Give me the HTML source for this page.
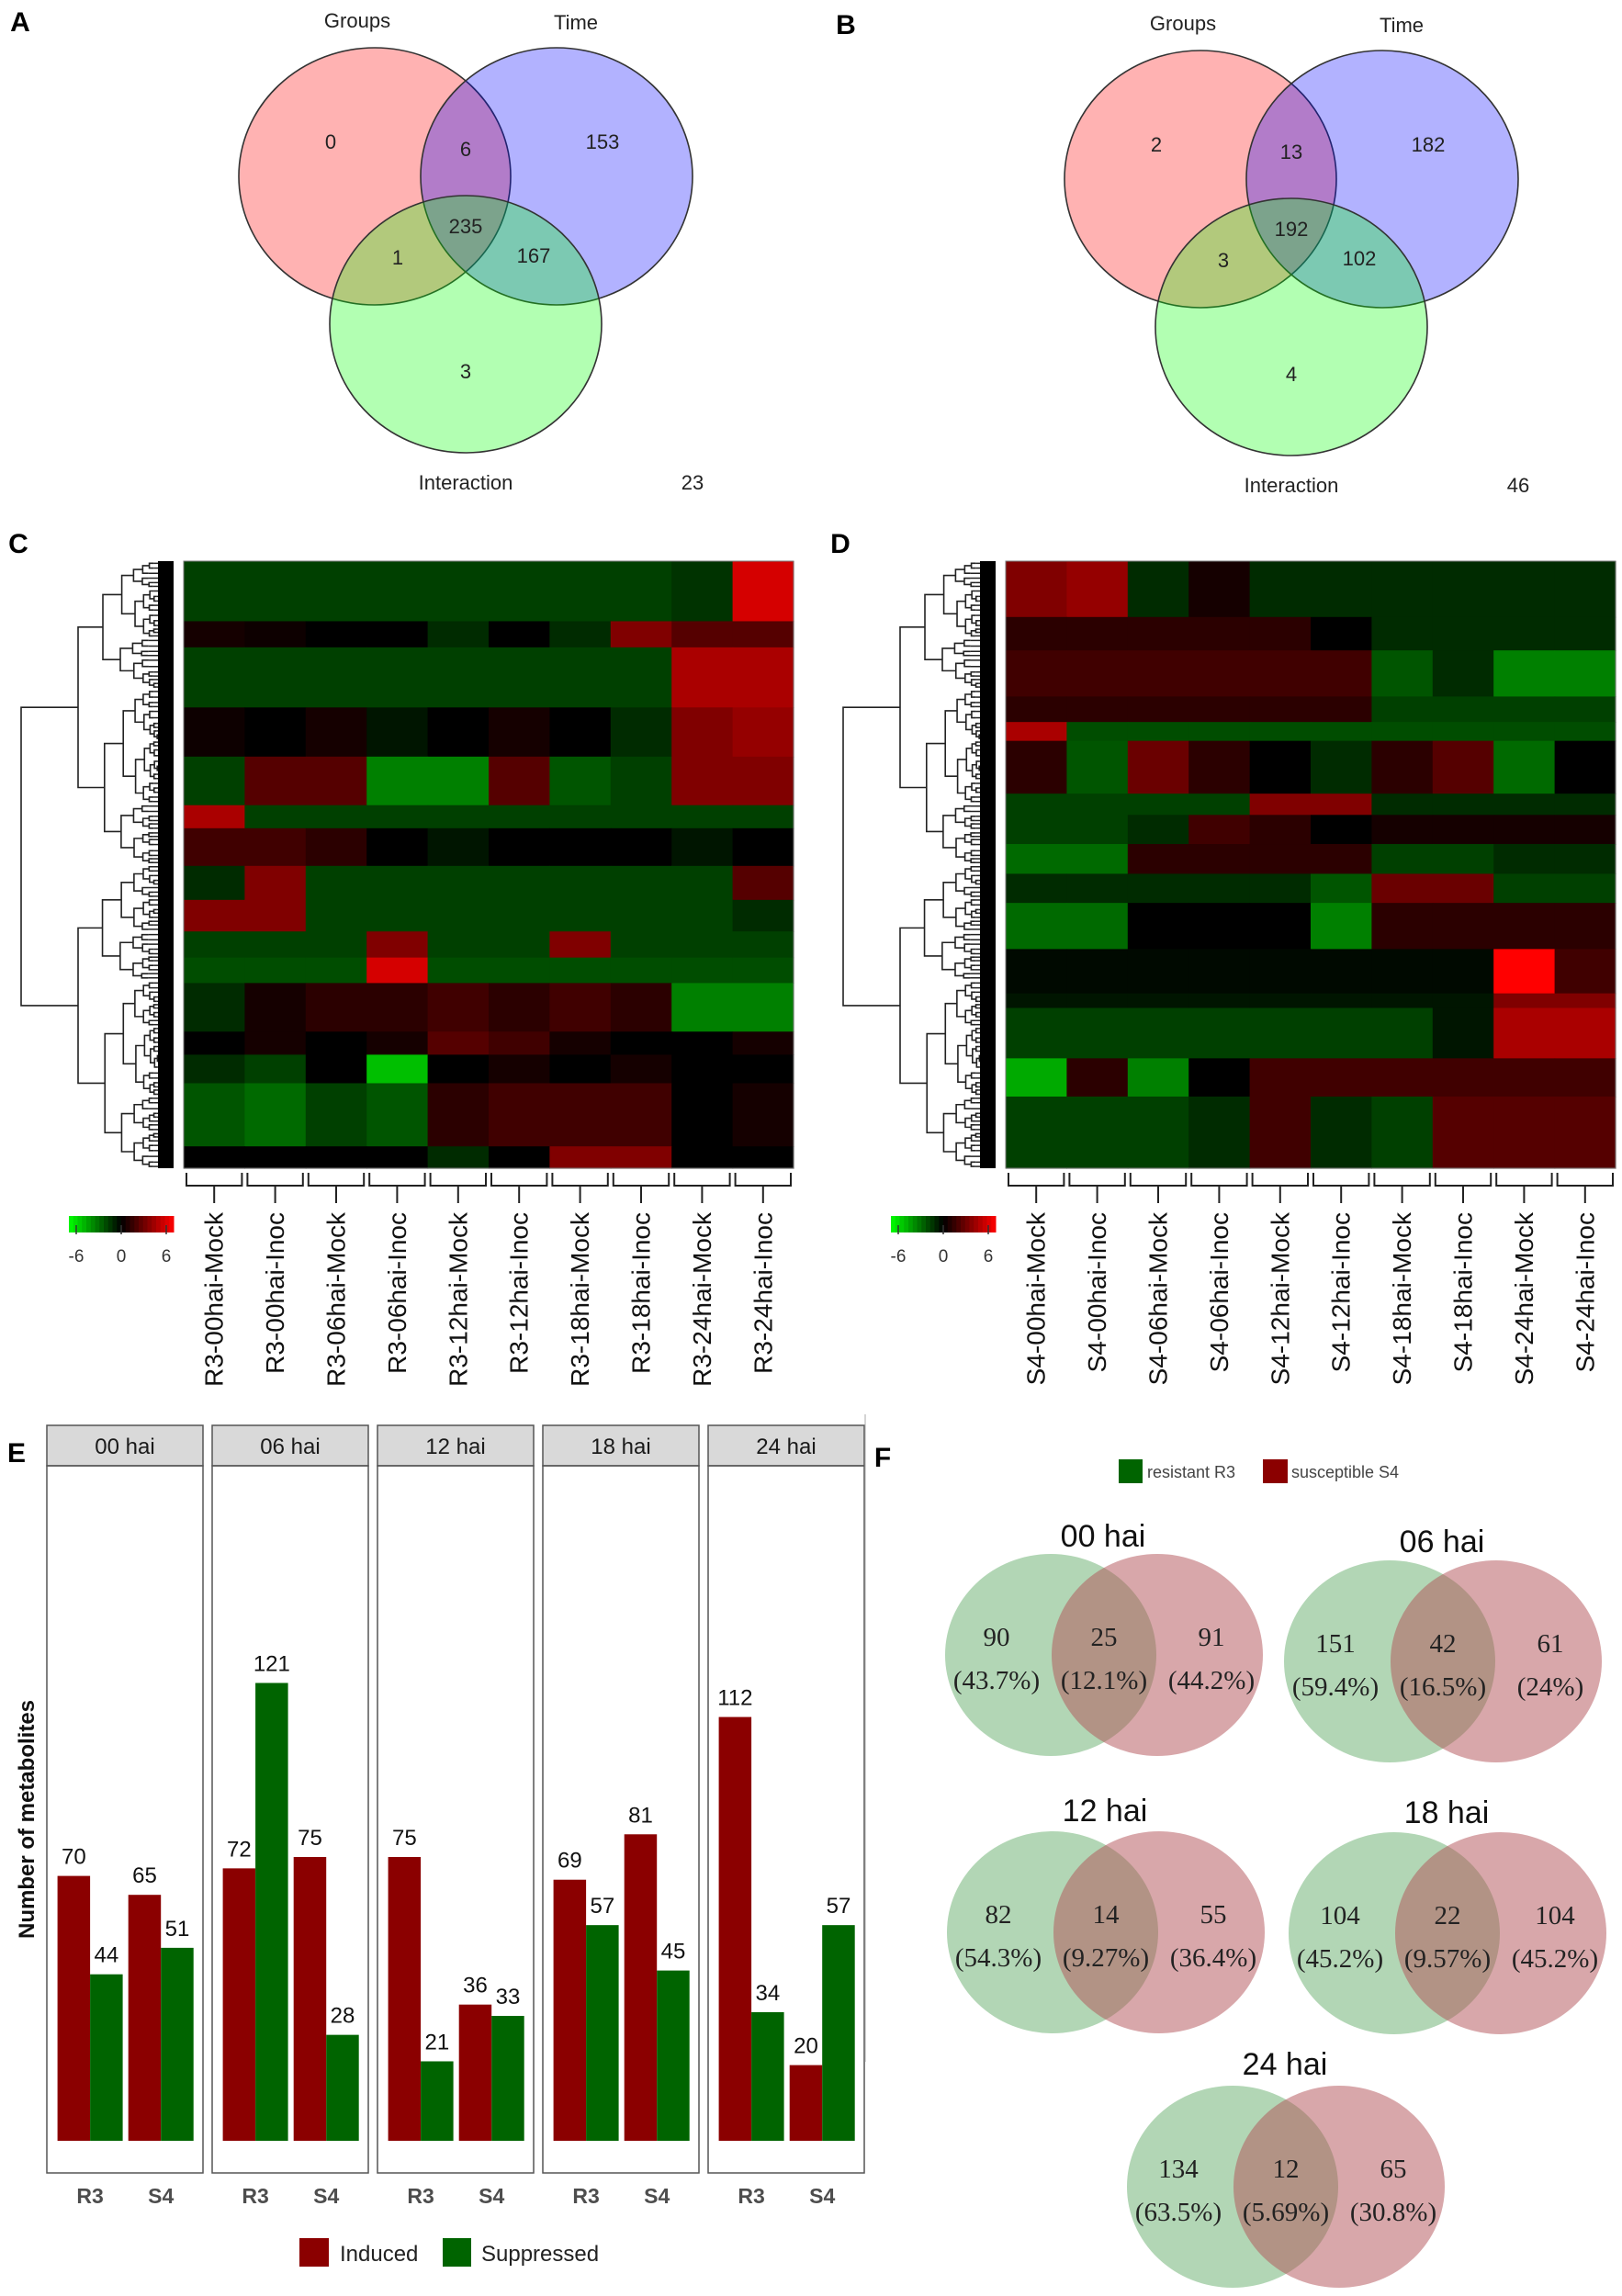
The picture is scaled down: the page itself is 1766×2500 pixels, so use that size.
<!DOCTYPE html>
<html><head><meta charset="utf-8"><style>
html,body{margin:0;padding:0;background:#fff}
svg{display:block}
text{font-family:"Liberation Sans",Arial,sans-serif}
.serif{font-family:"Liberation Serif","Times New Roman",serif}
</style></head><body>
<svg id="fig" width="1766" height="2500" viewBox="0 0 1766 2500" xmlns="http://www.w3.org/2000/svg">
<g id="pA"></g>
<g id="pB"></g>
<g id="pC"></g>
<g id="pD"></g>
<g id="pE"></g>
<g id="pF"></g>
</svg>
<script>
// ---------- data ----------
const vennA = [0, 6, 153, 235, 1, 167, 3, 23];
const vennB = [2, 13, 182, 192, 3, 102, 4, 46];
const vennSetNames = ["Groups", "Time", "Interaction"];

const conditionsC = ["R3-00hai-Mock","R3-00hai-Inoc","R3-06hai-Mock","R3-06hai-Inoc","R3-12hai-Mock","R3-12hai-Inoc","R3-18hai-Mock","R3-18hai-Inoc","R3-24hai-Mock","R3-24hai-Inoc"];
const conditionsD = ["S4-00hai-Mock","S4-00hai-Inoc","S4-06hai-Mock","S4-06hai-Inoc","S4-12hai-Mock","S4-12hai-Inoc","S4-18hai-Mock","S4-18hai-Inoc","S4-24hai-Mock","S4-24hai-Inoc"];
// band boundaries (fraction of rows) and band values per condition
const bandEdgesC = [0,0.099,0.142,0.241,0.322,0.402,0.440,0.502,0.558,0.610,0.653,0.695,0.775,0.813,0.860,0.964,1];
const bandValuesC = [
 [-1.5,-1.5,-1.5,-1.5,-1.5,-1.5,-1.5,-1.5,-1.2,5],
 [0.5,0.3,0,0,-1,0,-1,3,2,2],
 [-1.5,-1.5,-1.5,-1.5,-1.5,-1.5,-1.5,-1.5,4,4],
 [0.3,0,0.5,-0.5,0,0.5,0,-1,3,3.5],
 [-1.5,2,2,-3,-3,2,-2,-1.5,3,3],
 [4,-1.5,-1.5,-1.5,-1.5,-1.5,-1.5,-1.5,-1.5,-1.5],
 [1.5,1.5,1,0,-0.5,0,0,0,-0.5,0],
 [-1,3,-1.5,-1.5,-1.5,-1.5,-1.5,-1.5,-1.5,2],
 [3,3,-1.5,-1.5,-1.5,-1.5,-1.5,-1.5,-1.5,-1],
 [-1.5,-1.5,-1.5,3,-1.5,-1.5,3,-1.5,-1.5,-1.5],
 [-1.8,-1.8,-1.8,5,-1.8,-1.8,-1.8,-1.8,-1.8,-1.8],
 [-1,0.5,1,1,1.5,1,1.5,1,-3,-3],
 [0,0.5,0,0.5,2,1.5,0.5,0,0,0.5],
 [-1,-1.5,0,-4.5,0,0.5,0,0.5,0,0],
 [-2,-2.5,-1.5,-2,1,1.5,1.5,1.5,0,0.5],
 [0,0,0,0,-1,0,3,3,0,0]
];
const bandEdgesD = [0,0.092,0.147,0.223,0.265,0.296,0.383,0.418,0.466,0.515,0.563,0.639,0.712,0.736,0.819,0.882,1];
const bandValuesD = [
 [3,3.5,-1,0.5,-1,-1,-1,-1,-1,-1],
 [1,1,1,1,1,0,-1,-1,-1,-1],
 [1.5,1.5,1.5,1.5,1.5,1.5,-2,-1,-3,-3],
 [1,1,1,1,1,1,-1.5,-1.5,-1.5,-1.5],
 [4,-1.8,-1.8,-1.8,-1.8,-1.8,-1.8,-1.8,-1.8,-1.8],
 [1,-2,2.5,1,0,-1,1,2,-2.5,0],
 [-1.5,-1.5,-1.5,-1.5,3,3,-1,-1,-1,-1],
 [-1.5,-1.5,-1,1.5,1,0,0.5,0.5,0.5,0.5],
 [-2.5,-2.5,1,1,1,1,-1.5,-1.5,-1,-1],
 [-1,-1,-1,-1,-1,-2,2.5,2.5,-1.5,-1.5],
 [-2.5,-2.5,0,0,0,-3,1,1,1,1],
 [-0.2,-0.2,-0.2,-0.2,-0.2,-0.2,-0.2,-0.2,6,1.5],
 [-0.5,-0.5,-0.5,-0.5,-0.5,-0.5,-0.5,-0.5,3,3],
 [-1.5,-1.5,-1.5,-1.5,-1.5,-1.5,-1.5,-0.5,4,4],
 [-4,1,-3,0,1.5,1.5,1.5,1.5,1.5,1.5],
 [-1.5,-1.5,-1.5,-1,1.5,-1,-1.5,2,2,2]
];
const colorbarTicks = [-6, 0, 6];

const timePoints = ["00 hai","06 hai","12 hai","18 hai","24 hai"];
const inducedR3 = [70, 72, 75, 69, 112];
const suppressedR3 = [44, 121, 21, 57, 34];
const inducedS4 = [65, 75, 36, 81, 20];
const suppressedS4 = [51, 28, 33, 45, 57];
const genotypes = ["R3", "S4"];

const fTimes = ["00 hai","06 hai","12 hai","18 hai","24 hai"];
const fOnlyR3 = [90, 151, 82, 104, 134];
const fShared = [25, 42, 14, 22, 12];
const fOnlyS4 = [91, 61, 55, 104, 65];
const fPctR3 = ["43.7%","59.4%","54.3%","45.2%","63.5%"];
const fPctShared = ["12.1%","16.5%","9.27%","9.57%","5.69%"];
const fPctS4 = ["44.2%","24%","36.4%","45.2%","30.8%"];

// ---------- helpers ----------
const NS = "http://www.w3.org/2000/svg";
function mk(parent, tag, attrs, txt){
  const e = document.createElementNS(NS, tag);
  for (const k in attrs) e.setAttribute(k, attrs[k]);
  if (txt !== undefined) e.textContent = txt;
  parent.appendChild(e);
  return e;
}
function label(parent, x, y, s, size, extra){
  const t = mk(parent, "text", Object.assign({x:x, y:y, "font-size":size, "text-anchor":"middle", fill:"#222"}, extra||{}), s);
  return t;
}

// ---------- Panels A and B ----------
function venn3(g, dx, dy, vals, letter){
  const L = label(g, 22+dx, 34+dy, letter, 30, {"font-weight":"bold", fill:"#000"});
  
  
  const circ = [[408,192,"rgba(255,0,0,0.3)"],[606,192,"rgba(0,0,255,0.3)"],[507,353,"rgba(0,255,0,0.3)"]];
  circ.forEach((c,i)=>{
    const e = mk(g, "ellipse", {cx:c[0]+dx, cy:c[1]+dy, rx:148, ry:140, fill:c[2], stroke:"#333", "stroke-width":1.6});
    
    
  });
  const titles = [[389,30,vennSetNames[0]],[627,32,vennSetNames[1]],[507,533,vennSetNames[2]]];
  titles.forEach(t=>{
    const e = label(g, t[0]+dx, t[1]+dy, t[2], 22);
    
    
  });
  const pos = [[360,162],[507,170],[656,162],[507,254],[433,288],[581,286],[507,412],[754,533]];
  pos.forEach((p,i)=>{
    const e = label(g, p[0]+dx, p[1]+dy, String(vals[i]), 22);
    
    
  });
}
venn3(document.getElementById("pA"), 0, 0, vennA, "A");
venn3(document.getElementById("pB"), 899, 3, vennB, "B");

// ---------- Panels C and D ----------
function valColor(v){
  v = Math.max(-6, Math.min(6, v));
  if (v < 0) { return "rgb(0," + Math.round(255*(-v)/6) + ",0)"; }
  return "rgb(" + Math.round(255*v/6) + ",0,0)";
}
const splitFracs = [0.5,0.42,0.6,0.35,0.55,0.65,0.45,0.38,0.58,0.5,0.62,0.4];
let splitIdx = 0;
function tree(g, xJoin, y0, y1, depth, leafX){
  // returns y of this node's join point
  if (y1 - y0 < 7 || depth > 9) {
    const ym = (y0+y1)/2;
    mk(g, "line", {x1:xJoin, y1:ym, x2:leafX, y2:ym, stroke:"#222", "stroke-width":1.5});
    return ym;
  }
  const f = splitFracs[(splitIdx++) % splitFracs.length];
  const ys = y0 + (y1-y0)*f;
  const step = (leafX - xJoin) * (depth === 0 ? 0.4 : 0.3);
  const xa = xJoin + step*(0.8 + 0.4*f);
  const xb = xJoin + step*(1.2 - 0.4*f);
  const ya = tree(g, xa, y0, ys, depth+1, leafX);
  const yb = tree(g, xb, ys, y1, depth+1, leafX);
  mk(g, "path", {d:"M"+xa+","+ya+" H"+xJoin+" V"+yb+" H"+xb, fill:"none", stroke:"#222", "stroke-width":1.6});
  return (ya+yb)/2;
}
function heatmap(g, dx, conds, edges, vals, letter){
  const L = label(g, 20+dx, 602, letter, 30, {"font-weight":"bold", fill:"#000"});
  
  
  const hx0 = 200+dx, hx1 = 864+dx, hy0 = 611, hy1 = 1272;
  const cw = (hx1-hx0)/conds.length;
  const hg = mk(g, "g", {});
  
  
  for (let b = 0; b < vals.length; b++){
    const ya = hy0 + (hy1-hy0)*edges[b], yb = hy0 + (hy1-hy0)*edges[b+1];
    for (let c = 0; c < conds.length; c++){
      const r = mk(hg, "rect", {x:hx0+c*cw, y:ya, width:cw+0.6, height:yb-ya+0.6, fill:valColor(vals[b][c])});
      
      
    }
  }
  mk(g, "rect", {x:hx0, y:hy0, width:hx1-hx0, height:hy1-hy0, fill:"none", stroke:"#777", "stroke-width":1});
  // dendrogram
  const dg = mk(g, "g", {});
  
  
  splitIdx = 0;
  tree(dg, 23+dx, hy0, hy1, 0, 178+dx);
  mk(dg, "rect", {x:172+dx, y:hy0, width:17, height:hy1-hy0, fill:"#000"});
  // brackets + labels
  for (let c = 0; c < conds.length; c++){
    const xa = hx0 + c*cw + 3, xb = hx0 + (c+1)*cw - 3, xm = (xa+xb)/2;
    const br = mk(g, "path", {d:"M"+xa+",1277 V1291 H"+xb+" V1277 M"+xm+",1291 V1310", fill:"none", stroke:"#222", "stroke-width":2});
    
    
    const t = mk(g, "text", {x:0, y:0, "font-size":28, "text-anchor":"end", "dominant-baseline":"central", fill:"#111", transform:"translate("+xm+",1320) rotate(-90)"}, conds[c]);
    
    
  }
  // colorbar
  const cb = mk(g, "g", {});
  
  
  const n = 24, bx0 = 75+dx, bx1 = 189+dx;
  for (let i = 0; i < n; i++){
    const v = colorbarTicks[0] + (colorbarTicks[2]-colorbarTicks[0])*(i+0.5)/n;
    mk(cb, "rect", {x:bx0+(bx1-bx0)*i/n, y:1324, width:(bx1-bx0)/n+0.5, height:18, fill:valColor(v)});
  }
  colorbarTicks.forEach(tv=>{
    const x = bx0 + (bx1-bx0)*(tv-colorbarTicks[0])/(colorbarTicks[2]-colorbarTicks[0]);
    const xx = Math.min(Math.max(x, bx0+8), bx1-8);
    mk(cb, "line", {x1:xx, y1:1334, x2:xx, y2:1344, stroke:"#333", "stroke-width":1.5});
    const t = label(cb, xx, 1374, String(tv), 19, {fill:"#333"});
  });
}
heatmap(document.getElementById("pC"), 0, conditionsC, bandEdgesC, bandValuesC, "C");
heatmap(document.getElementById("pD"), 895, conditionsD, bandEdgesD, bandValuesD, "D");

// ---------- Panel E ----------
(function(){
  const g = document.getElementById("pE");
  const L = label(g, 18, 1592, "E", 30, {"font-weight":"bold", fill:"#000"});
  
  
  const base = 2331, ppu = 4.12;
  const y = v => base - v*ppu;
  const panelX = i => 51 + i*180;
  const barW = 35.5;
  timePoints.forEach((tp, i)=>{
    const px = panelX(i);
    const s = mk(g, "rect", {x:px, y:1552, width:170, height:44, fill:"#d9d9d9", stroke:"#555", "stroke-width":1.5});
    
    
    const st = label(g, px+85, 1583, tp, 24, {fill:"#1a1a1a"});
    
    
    const pf = mk(g, "rect", {x:px, y:1596, width:170, height:770, fill:"none", stroke:"#555", "stroke-width":1.5});
    
    
    const groups = [[inducedR3[i], suppressedR3[i]], [inducedS4[i], suppressedS4[i]]];
    groups.forEach((gv, k)=>{
      const gx = px + (k === 0 ? 11.6 : 88.7);
      gv.forEach((v, j)=>{
        const bx = gx + j*barW;
        const r = mk(g, "rect", {x:bx, y:y(v), width:barW, height:base-y(v), fill: j===0 ? "#8b0000" : "#006400"});
        
        
        const t = label(g, bx+barW/2, y(v)-13, String(v), 24, {fill:"#111"});
        
        
      });
      const xl = label(g, gx+barW, 2399, genotypes[k], 23, {"font-weight":"bold", fill:"#4d4d4d"});
      
      
    });
  });
  const yt = mk(g, "text", {x:0, y:0, "font-size":24, "font-weight":"bold", "text-anchor":"middle", fill:"#111", transform:"translate(37,1981) rotate(-90)"}, "Number of metabolites");
  
  
  const lg = mk(g, "g", {});
  
  
  mk(lg, "rect", {x:326, y:2437, width:32, height:31, fill:"#8b0000"});
  mk(lg, "text", {x:370, y:2462, "font-size":24, fill:"#222"}, "Induced");
  mk(lg, "rect", {x:482, y:2437, width:31, height:31, fill:"#006400"});
  mk(lg, "text", {x:524, y:2462, "font-size":24, fill:"#222"}, "Suppressed");
})();

// ---------- Panel F ----------
(function(){
  const g = document.getElementById("pF");
  const L = label(g, 961, 1597, "F", 30, {"font-weight":"bold", fill:"#000"});
  
  
  mk(g, "line", {x1:942, y1:1540, x2:942, y2:2245, stroke:"#aaa", "stroke-width":1});
  const lg = mk(g, "g", {});
  
  
  mk(lg, "rect", {x:1218, y:1589, width:26, height:26, fill:"#006400"});
  mk(lg, "text", {x:1249, y:1609, "font-size":18, fill:"#444"}, "resistant R3");
  mk(lg, "rect", {x:1375, y:1589, width:27, height:26, fill:"#8b0000"});
  mk(lg, "text", {x:1406, y:1609, "font-size":18, fill:"#444"}, "susceptible S4");
  // layout centers: [left-circle cx, cy, title y]
  const centers = [[1144,1802,1684],[1513,1809,1690],[1146,2104,1983],[1518,2105,1985],[1342,2381,2259]];
  fTimes.forEach((tp, i)=>{
    const c = centers[i];
    const vg = mk(g, "g", {});
    
    
    const ttl = label(vg, c[0]+57, c[2], tp, 34, {fill:"#111"});
    
    
    const e1 = mk(vg, "ellipse", {cx:c[0], cy:c[1], rx:115, ry:110, fill:"rgb(178,214,181)"});
    
    
    const e2 = mk(vg, "ellipse", {cx:c[0]+116, cy:c[1], rx:115, ry:110, fill:"rgba(177,80,86,0.5)"});
    
    
    const xs = [c[0]-59, c[0]+58, c[0]+175];
    const cnt = [fOnlyR3[i], fShared[i], fOnlyS4[i]];
    const pct = [fPctR3[i], fPctShared[i], fPctS4[i]];
    for (let k = 0; k < 3; k++){
      const a = label(vg, xs[k], c[1]-10, String(cnt[k]), 29, {"class":"serif", fill:"#222"});
      
      
      const b = label(vg, xs[k], c[1]+37, "(" + pct[k] + ")", 29, {"class":"serif", fill:"#222"});
      
      
    }
  });
})();
</script>
</body></html>
